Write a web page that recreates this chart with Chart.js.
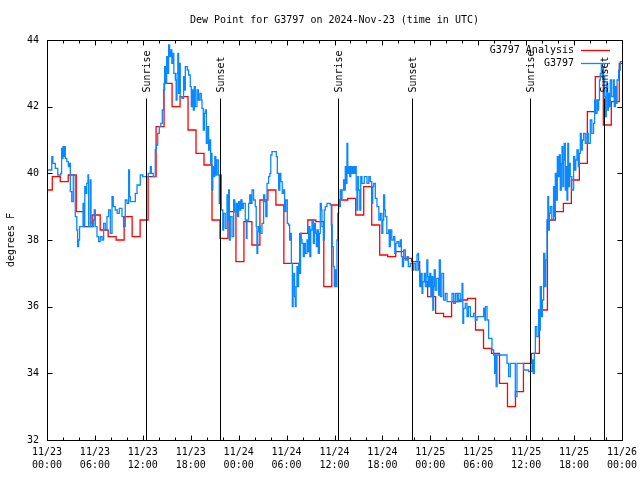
<!DOCTYPE html>
<html>
<head>
<meta charset="utf-8">
<title>Dew Point for G3797</title>
<script src="https://cdn.jsdelivr.net/npm/chart.js@4.4.1/dist/chart.umd.min.js"></script>
<style>
  html, body { margin: 0; padding: 0; background: #fff; }
  #wrap { width: 640px; height: 480px; }
</style>
</head>
<body>
<div id="wrap"><canvas id="chartCanvas" width="640" height="480"></canvas></div>
<script>
// Texts
const chartTitle = "Dew Point for G3797 on 2024-Nov-23 (time in UTC)";
const yAxisTitle = "degrees F";

// Axis ticks (x in hours since 11/23 00:00)
const xTickLabels = ["11/23 00:00", "11/23 06:00", "11/23 12:00", "11/23 18:00",
                     "11/24 00:00", "11/24 06:00", "11/24 12:00", "11/24 18:00",
                     "11/25 00:00", "11/25 06:00", "11/25 12:00", "11/25 18:00",
                     "11/26 00:00"];
const yTicks = [32, 34, 36, 38, 40, 42, 44];

// Sunrise / sunset times (hours)
const sunLabels = ["Sunrise", "Sunset", "Sunrise", "Sunset", "Sunrise", "Sunset"];
const sunHours = [12.35, 21.70, 36.39, 45.70, 60.43, 69.70];

// Hourly analysis (each value starts at :40 past the hour)
const analysisValues = [
  39.5, 39.9, 39.75, 39.95, 38.85, 38.4, 38.75, 38.3, 38.1, 38.0,
  38.7, 38.1, 38.6, 39.9, 41.4, 42.7, 42.0, 42.3, 41.3, 40.6,
  40.25, 38.6, 38.05, 38.85, 37.35, 38.55, 37.85, 39.2, 39.5, 39.05,
  37.3, 37.3, 38.2, 38.6, 38.55, 36.6, 39.05, 39.2, 39.25, 38.75,
  39.6, 38.45, 37.55, 37.5, 37.65, 37.45, 37.35, 36.75, 36.3, 35.8,
  35.7, 36.15, 36.2, 36.25, 35.3, 34.75, 34.6, 33.7, 33.0, 33.45,
  34.3, 34.6, 35.9, 38.6, 38.85, 39.1, 39.8, 40.3, 41.85, 42.9,
  41.45, 42.15, 43.3
];

// Station observations
const obsHours = [
  0.0, 0.6, 0.73, 1.04, 1.35, 1.73, 1.83, 1.92, 2.0, 2.1, 2.2, 2.29, 2.48, 2.67, 2.79, 2.92,
  3.1, 3.29, 3.54, 3.73, 3.83, 3.96, 4.08, 4.51, 4.58, 4.73, 4.86, 4.98, 5.13, 5.21, 5.42,
  5.51, 5.67, 5.84, 5.92, 6.05, 6.26, 6.46, 6.67, 6.89, 7.09, 7.3, 7.51, 7.71, 7.93, 8.14,
  8.3, 8.55, 8.8, 9.05, 9.39, 9.59, 9.8, 10.02, 10.22, 10.33, 10.43, 11.06, 11.27, 11.68,
  12.0, 12.68, 12.94, 13.06, 13.31, 13.56, 13.69, 13.87, 14.06, 14.25, 14.44, 14.6, 14.73,
  14.85, 14.98, 15.1, 15.23, 15.35, 15.48, 15.63, 15.75, 15.88, 16.07, 16.17, 16.28, 16.38,
  16.48, 16.59, 16.69, 16.9, 17.1, 17.22, 17.32, 17.57, 17.73, 17.94, 18.07, 18.19, 18.32,
  18.44, 18.57, 18.78, 18.95, 19.13, 19.32, 19.41, 19.57, 19.7, 19.82, 19.95, 20.07, 20.24,
  20.36, 20.49, 20.57, 20.66, 20.76, 20.88, 21.01, 21.14, 21.26, 21.45, 21.57, 21.7, 21.83,
  22.01, 22.11, 22.32, 22.54, 22.64, 22.74, 22.83, 22.95, 23.17, 23.37, 23.52, 23.7, 23.83,
  23.99, 24.14, 24.27, 24.42, 24.58, 24.83, 24.96, 25.04, 25.24, 25.39, 25.52, 25.67, 25.87,
  26.08, 26.2, 26.29, 26.39, 26.49, 26.71, 26.92, 27.12, 27.27, 27.4, 27.55, 27.75, 27.9,
  28.02, 28.17, 28.71, 28.84, 29.0, 29.15, 29.28, 29.46, 29.63, 29.75, 29.9, 30.09, 30.25,
  30.38, 30.47, 30.6, 30.72, 30.82, 30.9, 31.0, 31.09, 31.19, 31.3, 31.41, 31.5, 31.65,
  31.75, 31.84, 31.93, 32.09, 32.22, 32.35, 32.56, 32.66, 32.76, 32.91, 33.03, 33.18, 33.35,
  33.47, 33.61, 33.73, 33.81, 33.97, 34.1, 34.22, 34.35, 34.43, 34.6, 34.72, 34.85, 35.06,
  35.47, 35.6, 35.72, 35.85, 35.97, 36.1, 36.22, 36.31, 36.41, 36.51, 36.6, 36.72, 36.85,
  36.94, 37.14, 37.26, 37.35, 37.47, 37.56, 37.66, 37.76, 37.91, 38.04, 38.19, 38.35, 38.48,
  38.6, 38.72, 38.81, 38.91, 39.01, 39.17, 39.29, 39.44, 39.73, 40.07, 40.3, 40.48, 40.67,
  40.79, 40.9, 41.11, 41.32, 41.55, 41.74, 41.93, 42.05, 42.15, 42.28, 42.36, 42.55, 42.78,
  42.86, 42.99, 43.17, 43.4, 43.55, 43.68, 43.83, 44.05, 44.24, 44.37, 44.5, 44.65, 44.87,
  45.08, 45.24, 45.49, 45.74, 45.9, 46.12, 46.33, 46.43, 46.53, 46.68, 46.8, 46.96, 47.06,
  47.24, 47.37, 47.56, 47.68, 47.78, 47.93, 48.06, 48.21, 48.31, 48.41, 48.49, 48.62, 48.81,
  49.04, 49.12, 49.25, 49.44, 49.66, 49.88, 50.09, 50.71, 50.92, 51.13, 51.34, 51.5, 51.75,
  51.97, 52.07, 52.17, 52.38, 52.59, 52.76, 53.01, 53.42, 53.63, 53.85, 54.68, 54.83, 54.89,
  55.1, 55.3, 55.72, 55.93, 56.05, 56.14, 56.24, 56.35, 57.6, 57.8, 58.01, 58.64, 58.85,
  59.68, 60.31, 60.73, 60.89, 61.02, 61.15, 61.33, 61.56, 61.69, 61.77, 61.9, 62.03, 62.19,
  62.34, 62.46, 62.61, 62.71, 62.81, 62.9, 63.02, 63.21, 63.43, 63.56, 63.65, 63.77, 63.9,
  64.06, 64.15, 64.27, 64.4, 64.49, 64.59, 64.69, 64.77, 64.9, 65.02, 65.11, 65.21, 65.31,
  65.44, 65.52, 65.71, 65.94, 66.09, 66.21, 66.36, 66.53, 66.65, 66.78, 66.9, 67.03, 67.19,
  67.4, 67.62, 67.78, 68.03, 68.22, 68.44, 68.57, 68.69, 68.87, 68.97, 69.07, 69.18, 69.28,
  69.41, 69.5, 69.6, 69.69, 69.82, 69.9, 70.03, 70.11, 70.21, 70.31, 70.44, 70.53, 70.71,
  70.94, 71.03, 71.16, 71.28, 71.38, 71.58, 71.78, 72.0
];
const obsValues = [
  40.1, 40.5, 40.3, 40.15, 39.95, 40.0, 40.75, 40.45, 40.8, 40.5, 40.8, 40.45, 40.35, 40.2, 40.3, 39.45,
  39.15, 39.95, 38.7, 38.3, 37.8, 38.0, 38.4, 39.1, 38.4, 39.6, 39.4, 39.7, 39.95, 38.4, 39.8,
  38.5, 38.4, 38.6, 38.9, 38.4, 38.1, 37.95, 38.1, 38.0, 38.5, 38.3, 38.7, 38.9, 38.2, 39.3,
  39.0, 38.9, 38.8, 38.95, 38.7, 38.4, 39.2, 39.1, 40.1, 39.3, 39.15, 39.4, 39.65, 39.95,
  39.9, 40.0, 40.2, 40.0, 39.9, 40.7, 40.85, 41.2, 41.4, 41.5, 41.9, 42.5, 43.2,
  42.7, 43.5, 43.0, 43.85, 43.5, 43.7, 43.3, 43.6, 43.0, 42.8, 42.2, 43.0, 43.6,
  42.4, 43.3, 42.3, 42.25, 42.9, 42.5, 43.2, 43.1, 42.95, 42.6, 42.0, 42.5, 41.9,
  42.6, 42.0, 42.5, 42.2, 42.4, 42.2, 41.95, 41.3, 41.8, 41.9, 40.9, 41.4, 40.7,
  41.0, 40.3, 40.6, 39.5, 40.2, 39.9, 40.5, 39.95, 40.4, 39.95, 39.1, 39.95, 38.9,
  38.3, 38.8, 38.35, 39.35, 38.6, 39.5, 38.0, 38.7, 38.1, 39.2, 38.85, 39.1, 38.7,
  39.15, 38.9, 39.2, 38.95, 39.1, 38.6, 38.05, 38.6, 39.1, 39.35, 39.1, 39.5, 39.2,
  39.0, 38.4, 37.6, 38.25, 38.4, 38.2, 38.5, 39.35, 39.15, 38.7, 39.7, 39.9, 40.0,
  40.55, 40.65, 40.5, 40.0, 39.5, 40.0, 39.75, 39.4, 39.5, 38.85, 39.2, 38.5, 38.45,
  38.0, 38.2, 37.3, 36.0, 36.8, 37.0, 36.3, 36.0, 36.6, 37.2, 36.6, 37.3, 37.0,
  38.2, 38.0, 37.9, 37.5, 37.9, 37.6, 38.0, 37.65, 38.4, 37.5, 38.3, 38.6, 37.9,
  38.5, 38.2, 37.8, 38.3, 37.6, 38.2, 39.1, 38.9, 38.4, 38.0, 38.9, 39.0, 39.1,
  39.05, 38.45, 37.8, 37.2, 36.6, 37.1, 36.6, 38.0, 38.8, 39.2, 39.0, 39.5, 39.25,
  39.5, 39.8, 39.5, 40.2, 39.7, 40.9, 40.0, 40.2, 39.9, 40.2, 40.0, 40.2, 40.0,
  40.2, 39.5, 38.9, 39.9, 39.5, 38.9, 39.9, 39.7, 39.9, 39.7, 39.9, 39.75, 39.1,
  39.6, 39.7, 39.25, 39.0, 38.6, 38.8, 38.2, 38.6, 39.35, 38.9, 38.7, 38.2, 38.3,
  37.8, 38.3, 38.0, 38.1, 37.6, 37.9, 37.95, 37.8, 38.0, 37.5, 37.2, 37.7, 37.4,
  37.5, 37.2, 37.3, 37.1, 37.3, 37.1, 37.55, 37.6, 37.1, 36.6, 37.0, 36.4, 36.75,
  37.0, 36.6, 37.4, 36.9, 36.6, 37.0, 36.3, 36.9, 35.9, 36.6, 37.1, 36.5, 36.85,
  36.35, 37.4, 36.3, 37.0, 36.2, 36.4, 36.15, 36.4, 36.1, 36.4, 36.15, 36.4, 36.15,
  36.7, 35.5, 35.95, 36.1, 35.7, 36.0, 35.7, 35.8, 35.6, 35.7, 35.95, 35.6, 36.0,
  35.6, 35.05, 34.7, 34.55, 34.0, 34.55, 33.6, 34.55, 34.3, 33.9, 34.3, 33.3, 34.3,
  34.1, 34.05, 34.4, 34.0, 34.6, 35.4, 35.1, 35.9, 35.3, 36.6, 35.7, 36.2, 37.6,
  36.6, 37.4, 38.6, 39.3, 38.3, 38.8, 39.0, 38.6, 39.6, 38.7, 40.0, 39.2, 40.5,
  39.9, 40.55, 39.5, 40.3, 40.8, 39.6, 40.4, 40.9, 39.5, 40.2, 39.2, 40.9, 39.6,
  40.3, 39.9, 39.5, 40.5, 40.1, 40.4, 40.7, 40.2, 40.6, 41.2, 40.7, 41.0, 41.2,
  40.9, 41.2, 40.9, 41.6, 41.2, 41.5, 42.2, 41.8, 42.2, 41.9, 42.2, 42.8, 43.0,
  43.25, 42.9, 43.2, 42.9, 42.3, 41.7, 42.5, 42.7, 41.9, 42.4, 42.0, 42.8, 42.3,
  42.8, 42.0, 42.6, 42.1, 42.8, 43.1, 43.35, 43.35
];

const analysisColor = "#ff0000";
const obsColor = "#0a88ff";

Chart.defaults.font.family = '"DejaVu Sans Mono", "Liberation Mono", monospace';
Chart.defaults.font.size = 10;
Chart.defaults.color = "#000";

// Frame, inward tics, sun markers, legend and titles drawn gnuplot style
const gnuplotLook = {
    id: 'gnuplotLook',
    afterDraw(chart) {
        const { ctx, chartArea: area, scales } = chart;
        const xs = scales.x, ys = scales.y;
        const left = Math.round(area.left) + 0.5;
        const right = Math.round(area.right) + 0.5;
        const top = Math.round(area.top) + 0.5;
        const bottom = Math.round(area.bottom) + 0.5;

        ctx.save();
        ctx.font = '10px "DejaVu Sans Mono"';
        ctx.fillStyle = "#000";
        ctx.strokeStyle = "#000";
        ctx.lineWidth = 1;

        // sunrise / sunset lines
        sunHours.forEach((h, i) => {
            const px = Math.round(xs.getPixelForValue(h)) + 0.5;
            ctx.beginPath();
            ctx.moveTo(px, bottom);
            ctx.lineTo(px, top + 58);
            ctx.stroke();
            ctx.save();
            ctx.translate(px + 1, top + 52);
            ctx.rotate(-Math.PI / 2);
            ctx.textAlign = "left";
            ctx.textBaseline = "middle";
            ctx.fillText(sunLabels[i], 0, 0);
            ctx.restore();
        });

        // border
        ctx.strokeRect(left, top, right - left, bottom - top);

        // x tics every 2 h, long ones every 6 h
        for (let h = 0; h <= 72; h += 2) {
            const px = Math.round(xs.getPixelForValue(h)) + 0.5;
            const len = h % 6 === 0 ? 5 : 3;
            ctx.beginPath();
            ctx.moveTo(px, bottom); ctx.lineTo(px, bottom - len);
            ctx.moveTo(px, top); ctx.lineTo(px, top + len);
            ctx.stroke();
        }
        yTicks.forEach(v => {
            const py = Math.round(ys.getPixelForValue(v)) + 0.5;
            ctx.beginPath();
            ctx.moveTo(left, py); ctx.lineTo(left + 5, py);
            ctx.moveTo(right, py); ctx.lineTo(right - 5, py);
            ctx.stroke();
        });

        // title
        ctx.textAlign = "center";
        ctx.textBaseline = "middle";
        ctx.fillText(chartTitle, (area.left + area.right) / 2, 20);

        // y axis title
        ctx.save();
        ctx.translate(11, (area.top + area.bottom) / 2);
        ctx.rotate(-Math.PI / 2);
        ctx.fillText(yAxisTitle, 0, 0);
        ctx.restore();

        // legend, text first then sample line
        chart.data.datasets.slice().sort((a, b) => b.order - a.order).forEach((ds, i) => {
            const ly = Math.round(area.top + 10 + i * 13) + 0.5;
            ctx.textAlign = "right";
            ctx.fillStyle = "#000";
            ctx.fillText(ds.label, area.right - 48, ly);
            ctx.strokeStyle = ds.borderColor;
            ctx.lineWidth = 1.3;
            ctx.beginPath();
            ctx.moveTo(area.right - 41, ly);
            ctx.lineTo(area.right - 12, ly);
            ctx.stroke();
        });
        ctx.restore();
    }
};

function initChart() {
    const analysisData = analysisValues.map((v, i) => ({ x: i === 0 ? 0 : i - 0.34, y: v }));
    analysisData.push({ x: 72, y: analysisValues[analysisValues.length - 1] });
    const obsData = obsHours.map((h, i) => ({ x: h, y: obsValues[i] }));

    const ctx = document.getElementById('chartCanvas').getContext('2d');
    return new Chart(ctx, {
        type: 'line',
        data: {
            datasets: [{
                label: 'G3797 Analysis',
                data: analysisData,
                borderColor: analysisColor,
                borderWidth: 1.3,
                stepped: true,
                pointRadius: 0,
                order: 1
            }, {
                label: 'G3797',
                data: obsData,
                borderColor: obsColor,
                borderWidth: 1.3,
                stepped: true,
                pointRadius: 0,
                order: 0
            }]
        },
        options: {
            responsive: false,
            animation: false,
            layout: { padding: { top: 40, right: 18, left: 0, bottom: 0 } },
            plugins: {
                legend: { display: false },
                title: { display: false },
                tooltip: { enabled: false }
            },
            scales: {
                x: {
                    type: 'linear',
                    min: 0,
                    max: 72,
                    grid: { display: false, drawTicks: false },
                    border: { display: false },
                    afterFit: (scale) => {
                        scale.height = 40;
                        scale.paddingLeft = 0;
                        scale.paddingRight = 0;
                    },
                    ticks: {
                        stepSize: 6,
                        autoSkip: false,
                        maxRotation: 0,
                        padding: 6,
                        font: { lineHeight: 1.3 },
                        callback: (value) => {
                            const label = xTickLabels[Math.round(value / 6)];
                            return label ? label.split(' ') : '';
                        }
                    }
                },
                y: {
                    min: 32,
                    max: 44,
                    grid: { display: false, drawTicks: false },
                    border: { display: false },
                    afterFit: (scale) => { scale.width = 47; },
                    ticks: {
                        stepSize: 2,
                        padding: 8
                    }
                }
            }
        },
        plugins: [gnuplotLook]
    });
}

window.onload = () => {
    initChart();
};
</script>
</body>
</html>
